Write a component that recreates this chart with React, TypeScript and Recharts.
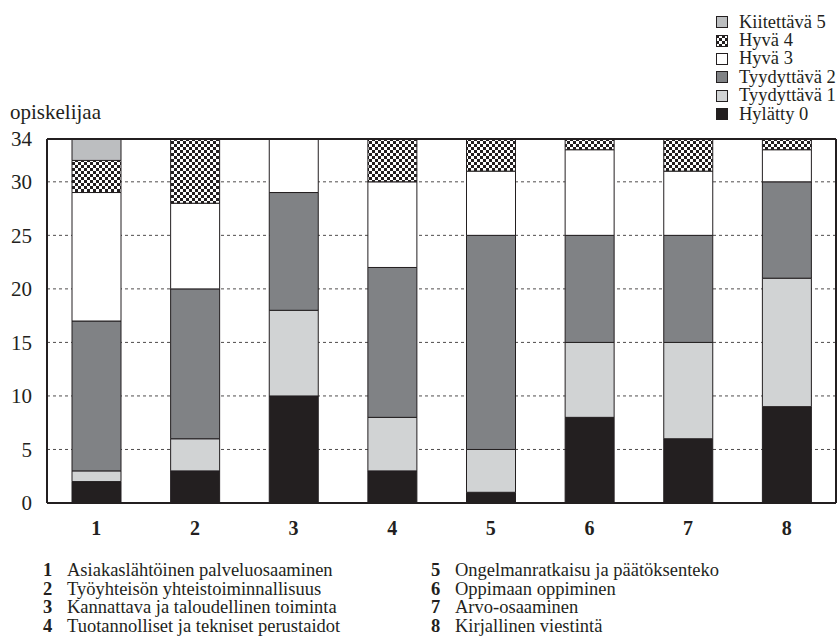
import { BarChart, Bar, XAxis, YAxis, CartesianGrid, ReferenceLine } from "recharts"

const categories = ["1", "2", "3", "4", "5", "6", "7", "8"]

// bottom -> top
const hylatty = [2, 3, 10, 3, 1, 8, 6, 9]
const tyydyttava1 = [1, 3, 8, 5, 4, 7, 9, 12]
const tyydyttava2 = [14, 14, 11, 14, 20, 10, 10, 9]
const hyva3 = [12, 8, 5, 8, 6, 8, 6, 3]
const hyva4 = [3, 6, 0, 4, 3, 1, 3, 1]
const kiitettava5 = [2, 0, 0, 0, 0, 0, 0, 0]

const yTicks = [0, 5, 10, 15, 20, 25, 30, 34]

const competences = [
  "Asiakaslähtöinen palveluosaaminen",
  "Työyhteisön yhteistoiminnallisuus",
  "Kannattava ja taloudellinen toiminta",
  "Tuotannolliset ja tekniset perustaidot",
  "Ongelmanratkaisu ja päätöksenteko",
  "Oppimaan oppiminen",
  "Arvo-osaaminen",
  "Kirjallinen viestintä",
]

const INK = "#231f20"
const FONT = '"Liberation Serif", "Times New Roman", serif'

const series = [
  { key: "hylatty", name: "Hylätty 0", values: hylatty, fill: INK },
  { key: "t1", name: "Tyydyttävä 1", values: tyydyttava1, fill: "#d1d3d4" },
  { key: "t2", name: "Tyydyttävä 2", values: tyydyttava2, fill: "#808285" },
  { key: "h3", name: "Hyvä 3", values: hyva3, fill: "#ffffff" },
  { key: "h4", name: "Hyvä 4", values: hyva4, fill: "url(#checker)" },
  { key: "k5", name: "Kiitettävä 5", values: kiitettava5, fill: "#bcbec0" },
]

const data = categories.map((c, i) => {
  const row: any = { name: c }
  series.forEach((s) => (row[s.key] = s.values[i]))
  return row
})

function Checker({ id }: { id: string }) {
  return (
    <pattern id={id} width={6} height={6} patternUnits="userSpaceOnUse">
      <rect width={6} height={6} fill="#fff" />
      <rect x={0} y={0} width={3} height={3} fill={INK} />
      <rect x={3} y={3} width={3} height={3} fill={INK} />
    </pattern>
  )
}

function LegendBox() {
  return (
    <div style={{ position: "absolute", left: 716, top: 13, fontSize: 18.5, color: INK }}>
      {[...series].reverse().map((s) => (
        <div key={s.key} style={{ display: "flex", alignItems: "center", height: 18.4 }}>
          <svg width={12} height={12} style={{ marginRight: 11 }}>
            <defs>
              <Checker id="checkerLegend" />
            </defs>
            <rect
              x={0.5}
              y={0.5}
              width={11}
              height={11}
              fill={s.key === "h4" ? "url(#checkerLegend)" : s.fill}
              stroke={INK}
              strokeWidth={1}
            />
          </svg>
          <span>{s.name}</span>
        </div>
      ))}
    </div>
  )
}

function Names() {
  const cols = [competences.slice(0, 4), competences.slice(4)]
  return (
    <>
      {cols.map((col, ci) => (
        <div
          key={ci}
          style={{
            position: "absolute",
            left: ci === 0 ? 43 : 431,
            top: 561,
            fontSize: 18.5,
            lineHeight: "18.6px",
            color: INK,
          }}
        >
          {col.map((t, i) => (
            <div key={i} style={{ display: "flex" }}>
              <span style={{ fontWeight: "bold", width: 24 }}>{ci * 4 + i + 1}</span>
              <span>{t}</span>
            </div>
          ))}
        </div>
      ))}
    </>
  )
}

function App() {
  return (
    <div
      style={{
        position: "absolute",
        left: 0,
        top: 0,
        width: 839,
        height: 637,
        background: "#fff",
        fontFamily: FONT,
      }}
    >
      <div style={{ position: "absolute", left: 10, top: 100, fontSize: 21, color: INK }}>opiskelijaa</div>
      <LegendBox />
      <div style={{ position: "absolute", left: 0, top: 0 }}>
        <BarChart
          width={839}
          height={637}
          data={data}
          margin={{ top: 139, right: 3, bottom: 94, left: 0 }}
        >
          <defs>
            <Checker id="checker" />
          </defs>
          <CartesianGrid vertical={false} stroke={INK} strokeDasharray="3 3" strokeWidth={0.8} />
          <XAxis
            dataKey="name"
            height={40}
            tickLine={false}
            tickSize={6}
            tickMargin={12}
            axisLine={{ stroke: INK, strokeWidth: 2 }}
            tick={{ fontSize: 20, fontWeight: "bold", fill: INK, fontFamily: FONT }}
          />
          <YAxis
            width={47}
            domain={[0, 34]}
            ticks={yTicks}
            interval={0}
            tickLine={false}
            tickSize={6}
            tickMargin={9}
            axisLine={{ stroke: INK, strokeWidth: 2 }}
            tick={{ fontSize: 21, fill: INK, fontFamily: FONT }}
          />
          {series.map((s) => (
            <Bar
              key={s.key}
              dataKey={s.key}
              name={s.name}
              stackId="a"
              barSize={49}
              fill={s.fill}
              stroke={INK}
              strokeWidth={1}
              isAnimationActive={false}
            />
          ))}
          {/* frame: top and right edges */}
          <ReferenceLine y={34} stroke={INK} strokeWidth={2} ifOverflow="visible" />
          <ReferenceLine x="8" position="end" stroke={INK} strokeWidth={2} ifOverflow="visible" />
        </BarChart>
      </div>
      <Names />
    </div>
  )
}

export default App
